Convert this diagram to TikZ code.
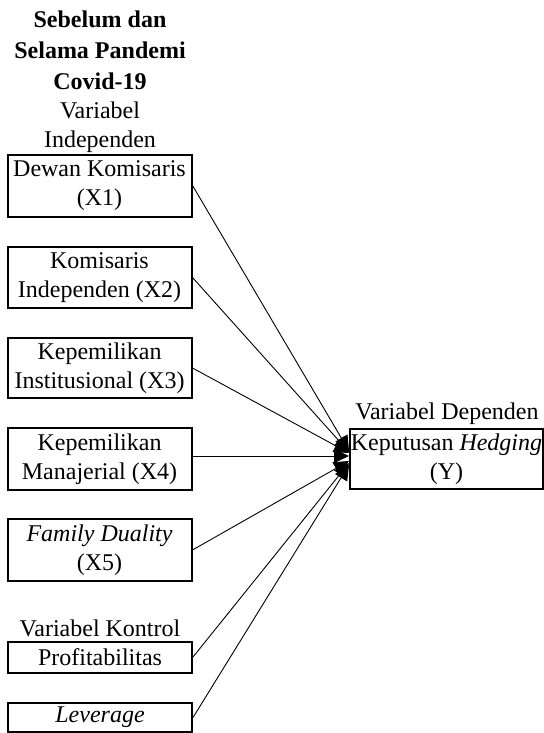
\documentclass[tikz,border=0pt]{standalone}
\usepackage{fontspec}
\setmainfont{Liberation Serif}
\usetikzlibrary{arrows.meta}
\begin{document}
\begin{tikzpicture}[x=0.5pt,y=-0.5pt,
  txt/.style={font=\fontsize{12}{14.6}\selectfont, align=center, inner sep=0pt},
  varbox/.style={draw, line width=1pt, minimum width=92pt, inner sep=0pt, align=center, font=\fontsize{12}{14.6}\selectfont},
  link/.style={line width=0.45pt, -{Triangle[length=7.5pt,width=7pt]}}]
\useasboundingbox (0,0) rectangle (544,733);
% header
\node[txt, font=\bfseries\fontsize{12}{15.4}\selectfont] (head) at (100,50) {Sebelum dan\\Selama Pandemi\\Covid-19};
\node[txt] (indep) at (100,127) {Variabel\\Independen};
% independent boxes
\node[varbox, minimum height=31pt] (x1) at (99.5,185.5) {Dewan Komisaris\\(X1)};
\node[varbox, minimum height=30.5pt] (x2) at (99.5,277.5) {Komisaris\\Independen (X2)};
\node[varbox, minimum height=30pt] (x3) at (99.5,368) {Kepemilikan\\Institusional (X3)};
\node[varbox, minimum height=31pt] (x4) at (99.5,459) {Kepemilikan\\Manajerial (X4)};
\node[varbox, minimum height=31pt] (x5) at (99.5,550) {\textit{Family Duality}\\(X5)};
% control
\node[txt] (kontrol) at (100,628) {Variabel Kontrol};
\node[varbox, minimum height=15.5pt] (c1) at (100,657) {Profitabilitas};
\node[varbox, minimum height=14.5pt] (c2) at (100,717.5) {\textit{Leverage}};
% dependent
\node[txt] (dep) at (447,414) {Variabel Dependen};
\node[varbox, minimum width=96.5pt, minimum height=30pt] (y) at (446.5,459) {Keputusan \textit{Hedging}\\(Y)};
% targets
\coordinate (t1) at (349,451);
\coordinate (t2) at (349,452);
\coordinate (t3) at (349,453);
\coordinate (t4) at (349,456);
\coordinate (t5) at (349,461);
\coordinate (t6) at (349,463);
\coordinate (t7) at (349,465);
\draw[link] (x1.east) -- (t1);
\draw[link] (x2.east) -- (t2);
\draw[link] (x3.east) -- (t3);
\draw[link] (x4.east |- t4) -- (t4);
\draw[link] (x5.east) -- (t5);
\draw[link] (c1.east) -- (t6);
\draw[link] (c2.east) -- (t7);
\end{tikzpicture}
\end{document}
